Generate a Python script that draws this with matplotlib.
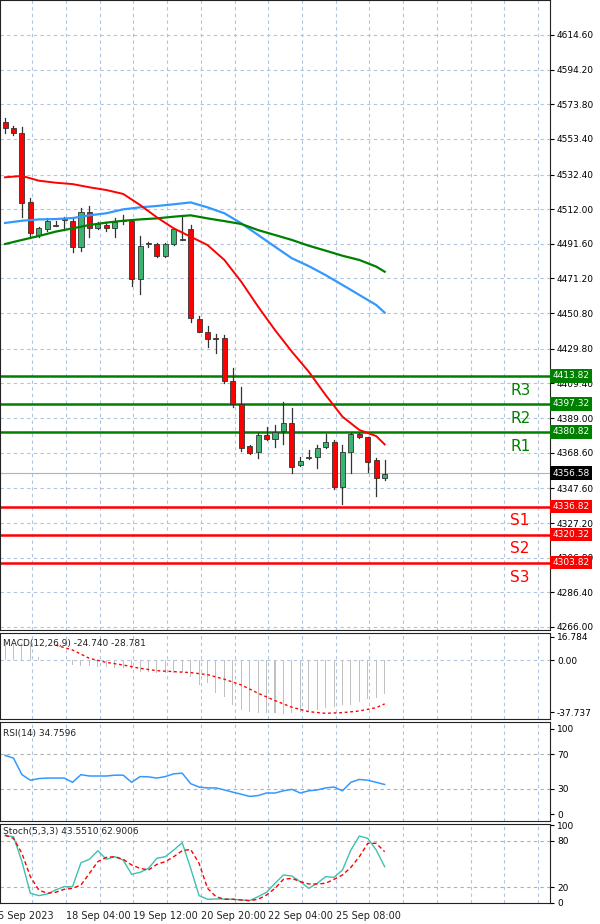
import matplotlib.pyplot as plt
from matplotlib.patches import Rectangle

# candles (4h)
opens = [4563.5, 4559.6, 4556.7, 4516.0, 4496.8, 4500.1, 4502.1, 4505.6, 4505.0, 4489.5,
         4510.5, 4500.7, 4502.7, 4500.7, 4505.0, 4505.2, 4470.7, 4491.3, 4491.5, 4484.4,
         4491.5, 4493.9, 4500.1, 4447.3, 4439.5, 4435.7, 4435.9, 4411.0, 4397.1, 4372.5,
         4368.8, 4379.0, 4376.5, 4381.6, 4386.3, 4361.4, 4365.3, 4366.3, 4371.8, 4375.1,
         4348.2, 4368.8, 4379.4, 4377.6, 4364.3, 4353.9]
highs = [4565.5, 4561.0, 4560.6, 4518.8, 4501.7, 4506.6, 4505.2, 4507.6, 4506.6, 4512.5,
         4513.9, 4504.6, 4504.6, 4506.6, 4508.6, 4505.2, 4496.4, 4492.9, 4491.9, 4491.9,
         4500.9, 4508.6, 4502.7, 4449.1, 4443.2, 4438.3, 4437.9, 4418.3, 4407.5, 4373.1,
         4380.0, 4383.9, 4384.9, 4398.7, 4394.7, 4365.9, 4370.2, 4373.1, 4379.8, 4376.1,
         4373.1, 4380.0, 4380.4, 4378.0, 4365.3, 4364.3]
lows = [4556.7, 4555.7, 4507.6, 4495.4, 4495.4, 4499.3, 4502.1, 4499.7, 4486.6, 4487.4,
        4495.8, 4500.1, 4499.3, 4495.4, 4503.3, 4466.8, 4462.1, 4489.9, 4484.0, 4484.0,
        4490.9, 4493.9, 4445.4, 4439.5, 4430.6, 4427.1, 4409.4, 4395.7, 4369.8, 4367.9,
        4365.3, 4376.1, 4372.1, 4373.7, 4356.8, 4360.8, 4364.9, 4359.8, 4371.2, 4347.0,
        4338.2, 4356.4, 4377.1, 4357.4, 4343.1, 4352.5]
closes = [4559.6, 4556.7, 4515.4, 4497.8, 4501.1, 4505.2, 4502.5, 4505.8, 4489.5, 4510.5,
          4500.7, 4503.3, 4500.7, 4504.6, 4505.2, 4470.7, 4490.5, 4491.7, 4484.4, 4491.5,
          4500.1, 4494.0, 4447.7, 4439.5, 4435.4, 4435.5, 4410.8, 4397.3, 4371.2, 4368.6,
          4379.0, 4376.5, 4380.6, 4386.3, 4360.4, 4363.9, 4366.3, 4371.6, 4375.1, 4348.6,
          4368.8, 4379.4, 4377.6, 4363.3, 4353.9, 4356.0]

ma_idx = [0, 2, 4, 6, 8, 10, 12, 14, 16, 18, 20, 22, 24, 26, 28, 30, 32, 34, 36, 38, 40, 42, 44, 45]
ma_red = [4530.8, 4531.6, 4528.8, 4527.6, 4526.8, 4524.9, 4523.3, 4521.0, 4514.5, 4507.2, 4500.7, 4495.8,
          4490.9, 4482.1, 4469.3, 4454.6, 4440.8, 4428.1, 4416.3, 4402.6, 4389.8, 4382.0, 4378.4, 4373.5]
ma_blue = [4503.9, 4505.2, 4506.0, 4506.2, 4506.8, 4508.4, 4509.6, 4511.9, 4513.1, 4513.9, 4514.9, 4516.0,
           4513.1, 4509.6, 4503.7, 4496.8, 4489.9, 4483.1, 4478.5, 4473.2, 4467.4, 4461.5, 4455.6, 4451.1]
ma_green = [4491.5, 4493.9, 4496.2, 4498.8, 4500.7, 4502.7, 4504.1, 4505.2, 4506.0, 4506.6, 4507.6, 4508.4,
            4506.6, 4505.0, 4503.3, 4499.7, 4496.8, 4493.9, 4490.5, 4487.6, 4484.6, 4482.1, 4478.2, 4475.2]

res_levels = [4413.82, 4397.32, 4380.82]
res_names = ["R3", "R2", "R1"]
sup_levels = [4336.82, 4320.32, 4303.82]
sup_names = ["S1", "S2", "S3"]
last_price = 4356.58

price_ticks = [4614.60, 4594.20, 4573.80, 4553.40, 4532.40, 4512.00, 4491.60, 4471.20, 4450.80,
               4429.80, 4409.40, 4389.00, 4368.60, 4347.60, 4327.20, 4306.80, 4286.40, 4266.00]

macd_hist = [12.0, 12.0, 12.0, 10.8, 2.4, 0.2, 0.3, 0.2, -3.6, -4.1, -4.3, -4.8, -5.3, -5.5, -6.0, -6.7,
             -8.4, -8.4, -9.1, -9.1, -9.1, -8.4, -12.0, -18.0, -16.8, -24.0, -26.4, -32.5, -36.1, -37.3,
             -38.5, -38.5, -38.0, -38.9, -38.0, -37.3, -37.3, -36.1, -34.9, -33.7, -32.5, -32.5, -30.0,
             -28.4, -27.2, -24.7]
sig_idx = [6, 8, 10, 12, 14, 16, 18, 20, 22, 24, 26, 28, 30, 32, 34, 36, 38, 40, 42, 44, 45]
macd_sig = [10.8, 7.2, 1.2, -1.7, -3.6, -6.0, -7.7, -8.4, -9.1, -10.6, -13.9, -18.0, -24.0, -29.3,
            -34.1, -37.3, -38.5, -38.0, -36.8, -34.4, -31.7]

rsi = [69, 65.7, 46.3, 39.7, 41.7, 42.3, 42.3, 42.3, 37.3, 46.3, 44.7, 44.7, 44.7, 45.7, 45.7, 37.3,
       44, 43.7, 42.3, 44, 47.3, 48, 35.7, 31.7, 30.7, 30.7, 28.3, 25.7, 23.3, 20.7, 21.7, 24.7, 24.7,
       27.3, 29, 24.7, 27.3, 28.3, 30.7, 31.7, 27.3, 37.3, 40.7, 39.7, 37.3, 34.7]

stoch_k = [86.4, 85.2, 53, 12.2, 9.2, 11.3, 16.5, 20.8, 20.8, 51.7, 56, 67.1, 56, 59.4, 55.1, 36.7,
           39.2, 44.4, 57.3, 59.4, 68, 77.4, 44.4, 9.2, 4.5, 4.9, 4.9, 4.5, 3.6, 2.8, 7.9, 13.5, 25.1,
           35.8, 34.5, 27.2, 18.6, 25.1, 33.6, 32.8, 42.2, 68, 86, 83, 68, 46.5]
stoch_d = [87.3, 83, 63.7, 33.6, 16.5, 12.2, 13.5, 17.3, 18.6, 22.9, 37.9, 53, 58.5, 59.4, 56, 48.7,
           44.4, 42.2, 49.5, 53, 59.4, 67.1, 68.8, 50.8, 18.6, 7.9, 4.5, 4.5, 3.6, 2.8, 4.5, 10, 18.6,
           30.2, 31.5, 27.2, 24.2, 24.2, 25.1, 30.2, 35.8, 45.7, 59.4, 76.6, 76.6, 65.8]

date_pos = [-1, 7, 15, 23, 31, 39]
date_labels = ["5 Sep 2023", "18 Sep 04:00", "19 Sep 12:00", "20 Sep 20:00", "22 Sep 04:00", "25 Sep 08:00"]

H = 924.0
W = 600.0
grid_c = "#b0c4de"
xlim = (-0.6, 64.6)
vgrid = [3.2 + 4 * k for k in range(16)]

fig = plt.figure(figsize=(6, 9.24), dpi=100)


def make_ax(top, bottom):
    ax = fig.add_axes([0, 1 - bottom / H, 550 / W, (bottom - top) / H])
    ax.set_xlim(*xlim)
    ax.set_xticks([])
    ax.yaxis.tick_right()
    ax.tick_params(axis="y", labelsize=6.5, length=3, pad=2)
    for v in vgrid:
        ax.axvline(v, color=grid_c, ls=(0, (3, 3)), lw=0.8, zorder=0)
    for s in ax.spines.values():
        s.set_color("#222222")
    return ax


ax = make_ax(0, 630)
ax.set_ylim(4264.2, 4635.2)
ax.set_yticks(price_ticks)
ax.set_yticklabels(["%.2f" % t for t in price_ticks])
for t in price_ticks:
    ax.axhline(t, color=grid_c, ls=(0, (3, 3)), lw=0.8, zorder=0)
ax.axhline(last_price, color="#aab4c8", lw=0.8, zorder=1)

for i in range(len(opens)):
    o, h, l, c = opens[i], highs[i], lows[i], closes[i]
    ax.plot([i, i], [l, h], color="#333333", lw=0.9, zorder=3)
    col = "#ff0000" if c < o else "#3cb371"
    ax.add_patch(Rectangle((i - 0.3, min(o, c)), 0.6, max(abs(c - o), 0.6),
                           facecolor=col, edgecolor="#333333", lw=0.6, zorder=4))

ax.plot(ma_idx, ma_blue, color="#3399ff", lw=1.6, zorder=5)
ax.plot(ma_idx, ma_green, color="#008000", lw=1.6, zorder=5)
ax.plot(ma_idx, ma_red, color="#ff0000", lw=1.4, zorder=5)

for lv, nm in zip(res_levels, res_names):
    ax.axhline(lv, color="#008000", lw=1.8, zorder=2)
    ax.text(0.928, lv - 4, nm, transform=ax.get_yaxis_transform(), color="#008000",
            fontsize=11, va="top")
    ax.text(1.005, lv, "%.2f" % lv, transform=ax.get_yaxis_transform(), color="white",
            fontsize=6.5, va="center", ha="left", zorder=10,
            bbox=dict(boxstyle="square,pad=0.25", fc="#008000", ec="none"), clip_on=False)
for lv, nm in zip(sup_levels, sup_names):
    ax.axhline(lv, color="#ff0000", lw=1.8, zorder=2)
    ax.text(0.928, lv - 4, nm, transform=ax.get_yaxis_transform(), color="#ff0000",
            fontsize=11, va="top")
    ax.text(1.005, lv, "%.2f" % lv, transform=ax.get_yaxis_transform(), color="white",
            fontsize=6.5, va="center", ha="left", zorder=10,
            bbox=dict(boxstyle="square,pad=0.25", fc="#ff0000", ec="none"), clip_on=False)
ax.text(1.005, last_price, "%.2f" % last_price, transform=ax.get_yaxis_transform(), color="white",
        fontsize=6.5, va="center", ha="left", zorder=10,
        bbox=dict(boxstyle="square,pad=0.25", fc="black", ec="none"), clip_on=False)

# MACD
ax2 = make_ax(633, 719)
ax2.set_ylim(-42.6, 19.5)
ax2.set_yticks([16.784, 0.0, -37.737])
ax2.set_yticklabels(["16.784", "0.00", "-37.737"])
ax2.axhline(0, color=grid_c, ls=(0, (3, 3)), lw=0.8, zorder=0)
ax2.bar(range(len(macd_hist)), macd_hist, width=0.12, color="#c0c0c0", zorder=2)
ax2.plot(sig_idx, macd_sig, color="#ff0000", ls=(0, (2, 2)), lw=1, zorder=3)
ax2.text(0.005, 0.93, "MACD(12,26,9) -24.740 -28.781", transform=ax2.transAxes, fontsize=6.5,
         va="top", color="#222222")

# RSI
ax3 = make_ax(722, 821)
ax3.set_ylim(-8.2, 108.2)
ax3.set_yticks([100, 70, 30, 0])
for t in [70, 30]:
    ax3.axhline(t, color="#b0b0b0", ls=(0, (3, 3)), lw=0.8, zorder=0)
ax3.plot(range(len(rsi)), rsi, color="#3399ff", lw=1.1)
ax3.text(0.005, 0.93, "RSI(14) 34.7596", transform=ax3.transAxes, fontsize=6.5, va="top",
         color="#222222")

# Stochastic
ax4 = make_ax(824, 903)
ax4.set_ylim(-0.3, 101.5)
ax4.set_yticks([100, 80, 20, 0])
for t in [80, 20]:
    ax4.axhline(t, color="#b0b0b0", ls=(0, (3, 3)), lw=0.8, zorder=0)
ax4.plot(range(len(stoch_k)), stoch_k, color="#40c0b0", lw=1.0)
ax4.plot(range(len(stoch_d)), stoch_d, color="#ff0000", ls=(0, (3, 2)), lw=1.0)
ax4.text(0.005, 0.96, "Stoch(5,3,3) 43.5510 62.9006", transform=ax4.transAxes, fontsize=6.5,
         va="top", color="#222222")
for p, lab in zip(date_pos, date_labels):
    ax4.text(p + 0.2, -10, lab, fontsize=7, ha="left", va="top", color="#222222", clip_on=False)

fig.savefig("out.png", dpi=100)
